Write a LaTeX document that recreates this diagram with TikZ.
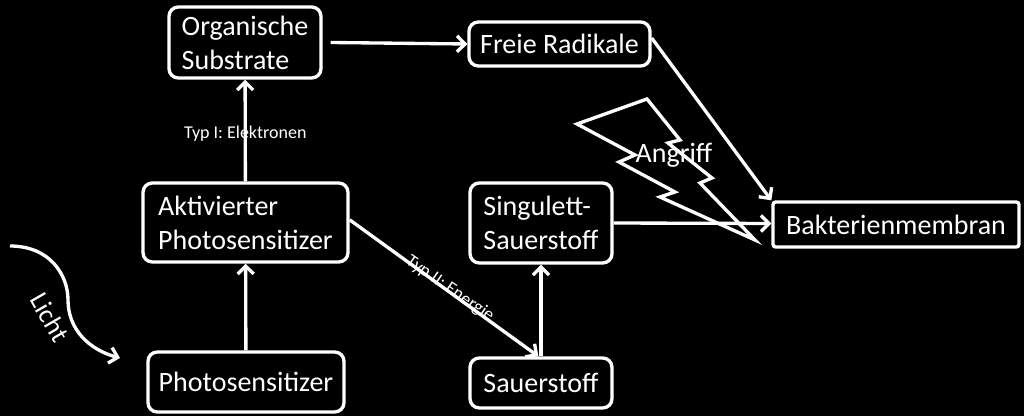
\documentclass[tikz,border=0pt]{standalone}
\usepackage{fontspec}
\setmainfont{Carlito}
\usetikzlibrary{arrows.meta}

\tikzset{
  box/.style={draw=white, line width=2.5pt, rounded corners=7pt, fill=black, text=white,
    inner sep=0.75pt, align=left, font=\fontsize{21}{25.5}\selectfont},
  flow/.style={draw=white, line width=2.5pt, -{Straight Barb[length=6pt,width=12pt]}},
  small/.style={text=white, font=\fontsize{13.5}{15}\selectfont, inner sep=0.75pt}
}

\begin{document}
\begin{tikzpicture}[x=0.75pt,y=0.75pt,yscale=-1,xscale=1]
\fill[black] (0,0) rectangle (1024,416);
\useasboundingbox (0,0) rectangle (1024,416);
% boxes
\node[box, minimum width=114pt, minimum height=53.25pt] (os) at (245,42.5) {Organische\\Substrate};
\node[box, minimum width=135.75pt, minimum height=33pt] (fr) at (559.5,44) {Freie Radikale};
\node[box, minimum width=153.75pt, minimum height=59.25pt] (ap) at (245.5,222.5) {Aktivierter\\Photosensitizer};
\node[box, minimum width=106.5pt, minimum height=60pt] (ss) at (541,223) {Singulett-\\Sauerstoff};
\node[box, minimum width=147pt, minimum height=45pt] (ps) at (246,382) {Photosensitizer};
\node[box, minimum width=106.5pt, minimum height=37.5pt] (sa) at (541,383) {Sauerstoff};
\node[box, rounded corners=2pt, minimum width=184.5pt, minimum height=33.75pt] (bm) at (896,224.5) {Bakterienmembran};
% lightning
\draw[white, line width=2.5pt, line join=miter] (577,124) -- (647,99) -- (680,140) -- (668,143) -- (712,178) -- (700,183) -- (755,240) -- (660,197) -- (675,192) -- (619,162) -- (635,155) -- cycle;
\node[text=white, font=\fontsize{21}{24}\selectfont, inner sep=0.75pt] (ang) at (674,155) {Angriff};
% arrows
\draw[flow] (ps) -- (ap);
\draw[flow] (ap) -- node[small, pos=0.47] (t1) {Typ I: Elektronen} (os);
\draw[flow] (os.east) ++(8,0) coordinate (osx) -- (fr.west);
\draw[flow] ([yshift=-4.5pt]fr.east) -- (bm.north west);
\draw[flow] (ss.east) -- ([yshift=-0.75pt]bm.west);
\draw[flow] ([yshift=-2pt]ap.east) coordinate (apx) -- ([xshift=-2pt]sa.north) coordinate (sax);
\node[small, rotate=-34.6] (t2) at (450,289) {Typ II: Energie};
\draw[flow] (sa) -- (ss);
% light
\coordinate (l0) at (10,246);
\coordinate (l1) at (120,358);
\draw[flow] (l0) .. controls (50,246) and (68,275) .. (68,300) .. controls (68,330) and (90,350) .. (l1);
\node[text=white, font=\fontsize{20}{22}\selectfont, rotate=-60, inner sep=0.75pt] (li) at (50,317) {Licht};
\end{tikzpicture}
\end{document}
